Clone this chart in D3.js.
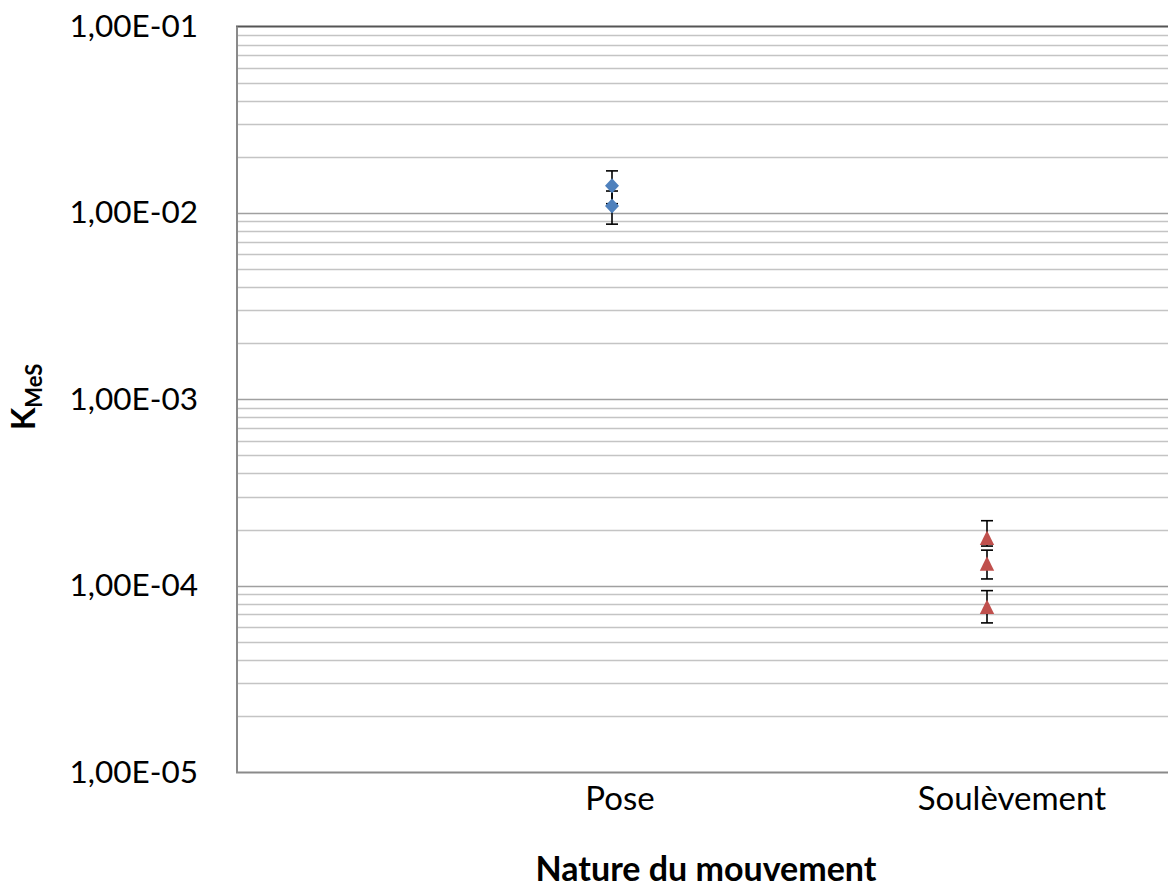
<!DOCTYPE html>
<html>
<head>
<meta charset="utf-8">
<script src="https://cdn.jsdelivr.net/npm/d3@7"></script>
<style>
  html, body { margin: 0; padding: 0; background: #ffffff; }
  svg { display: block; }
  text { font-family: Lato, "Open Sans", sans-serif; fill: #000; }
</style>
</head>
<body>
<svg id="chart" width="1168" height="887"></svg>
<script>
// ---- Data ----
const categories = ["Pose", "Soulèvement"];
const categoryTickX = [1.02, 2.065];      // where the category labels sit on the x axis
const yTickValues = [1e-5, 1e-4, 1e-3, 1e-2, 1e-1];
const yTickLabels = ["1,00E-05", "1,00E-04", "1,00E-03", "1,00E-02", "1,00E-01"];

const poseX = [1, 1];
const poseK = [0.0140, 0.0109];
const poseErrLow = [0.0112, 0.0087];
const poseErrHigh = [0.0168, 0.0131];

const soulX = [2, 2, 2];
const soulK = [1.80e-4, 1.31e-4, 0.767e-4];
const soulErrLow = [1.63e-4, 1.086e-4, 0.631e-4];
const soulErrHigh = [2.23e-4, 1.55e-4, 0.94e-4];

const xTitle = "Nature du mouvement";

// ---- Layout ----
const svg = d3.select("#chart");
const W = 1168, H = 887;
const plot = { left: 236, right: 1168, top: 26.5, bottom: 772 };

const x = d3.scaleLinear().domain([0, 2.48]).range([plot.left + 1, plot.left + 1 + 375 * 2.48]);
const y = d3.scaleLog().domain([1e-5, 1e-1]).range([plot.bottom, plot.top]);

svg.append("rect").attr("width", W).attr("height", H).attr("fill", "#fff");

// gridlines
const minorVals = [];
const majorVals = [];
for (let e = -5; e <= -2; e++) {
  for (let k = 1; k <= 9; k++) {
    const v = k * Math.pow(10, e);
    if (k === 1) majorVals.push(v); else minorVals.push(v);
  }
}
svg.append("g").selectAll("line").data(minorVals).join("line")
  .attr("x1", plot.left).attr("x2", plot.right)
  .attr("y1", d => Math.round(y(d)) + 0.5).attr("y2", d => Math.round(y(d)) + 0.5)
  .attr("stroke", "#c4c4c4").attr("stroke-width", 1.6);
svg.append("g").selectAll("line").data(majorVals.filter(v => v > 1e-5)).join("line")
  .attr("x1", plot.left).attr("x2", plot.right)
  .attr("y1", d => Math.round(y(d)) + 0.5).attr("y2", d => Math.round(y(d)) + 0.5)
  .attr("stroke", "#a0a0a0").attr("stroke-width", 1.6);

// top border (1e-1)
svg.append("line")
  .attr("x1", plot.left).attr("x2", plot.right)
  .attr("y1", y(1e-1)).attr("y2", y(1e-1))
  .attr("stroke", "#555555").attr("stroke-width", 2);

// axes lines
svg.append("line")
  .attr("x1", plot.left + 1).attr("x2", plot.left + 1)
  .attr("y1", plot.top).attr("y2", plot.bottom + 1)
  .attr("stroke", "#8a8a8a").attr("stroke-width", 2);
svg.append("line")
  .attr("x1", plot.left).attr("x2", plot.right)
  .attr("y1", plot.bottom + 0.5).attr("y2", plot.bottom + 0.5)
  .attr("stroke", "#8a8a8a").attr("stroke-width", 2);

// y tick labels
const yAxis = d3.axisLeft(y).tickValues(yTickValues)
  .tickFormat((d, i) => yTickLabels[i]).tickSize(0).tickPadding(38);
const gy = svg.append("g").attr("transform", `translate(${plot.left},0)`).call(yAxis);
gy.select(".domain").remove();
gy.selectAll("text").style("font-family", "Lato, sans-serif").attr("font-size", 31.5).attr("fill", "#000");

// x category labels
const xAxis = d3.axisBottom(x).tickValues(categoryTickX)
  .tickFormat((d, i) => categories[i]).tickSize(0).tickPadding(15);
const gx = svg.append("g").attr("transform", `translate(0,${plot.bottom})`).call(xAxis);
gx.select(".domain").remove();
gx.selectAll("text").style("font-family", "Lato, sans-serif").attr("font-size", 33).attr("fill", "#000");

// axis titles
svg.append("text")
  .attr("x", 706).attr("y", 881)
  .attr("text-anchor", "middle")
  .attr("font-size", 34).attr("font-weight", "bold")
  .text(xTitle);

const yt = svg.append("text")
  .attr("transform", "translate(35,397) rotate(-90)")
  .attr("text-anchor", "middle")
  .attr("font-weight", "bold");
yt.append("tspan").attr("font-size", 33).text("K");
yt.append("tspan").attr("font-size", 22).attr("dy", 7).text("MeS");

// error bars + markers
function errorBars(xs, lows, highs) {
  const g = svg.append("g");
  const d = xs.map((v, i) => ({ x: v, lo: lows[i], hi: highs[i] }));
  g.selectAll("line.v").data(d).join("line")
    .attr("x1", p => x(p.x)).attr("x2", p => x(p.x))
    .attr("y1", p => y(p.lo)).attr("y2", p => y(p.hi))
    .attr("stroke", "#000").attr("stroke-width", 1.6);
  ["lo", "hi"].forEach(k => {
    g.selectAll("line.c" + k).data(d).join("line")
      .attr("x1", p => x(p.x) - 6).attr("x2", p => x(p.x) + 6)
      .attr("y1", p => y(p[k])).attr("y2", p => y(p[k]))
      .attr("stroke", "#000").attr("stroke-width", 1.6);
  });
}
errorBars(poseX, poseErrLow, poseErrHigh);
errorBars(soulX, soulErrLow, soulErrHigh);

const diamond = "M0,-7.5 L7,0 L0,7.5 L-7,0 Z";
const triangle = "M0,-7.5 L7.2,7 L-7.2,7 Z";

svg.append("g").selectAll("path").data(poseK).join("path")
  .attr("transform", (d, i) => `translate(${x(poseX[i])},${y(d)})`)
  .attr("d", diamond).attr("fill", "#4F81BD");

svg.append("g").selectAll("path").data(soulK).join("path")
  .attr("transform", (d, i) => `translate(${x(soulX[i])},${y(d)})`)
  .attr("d", triangle).attr("fill", "#C0504D");
</script>
</body>
</html>
